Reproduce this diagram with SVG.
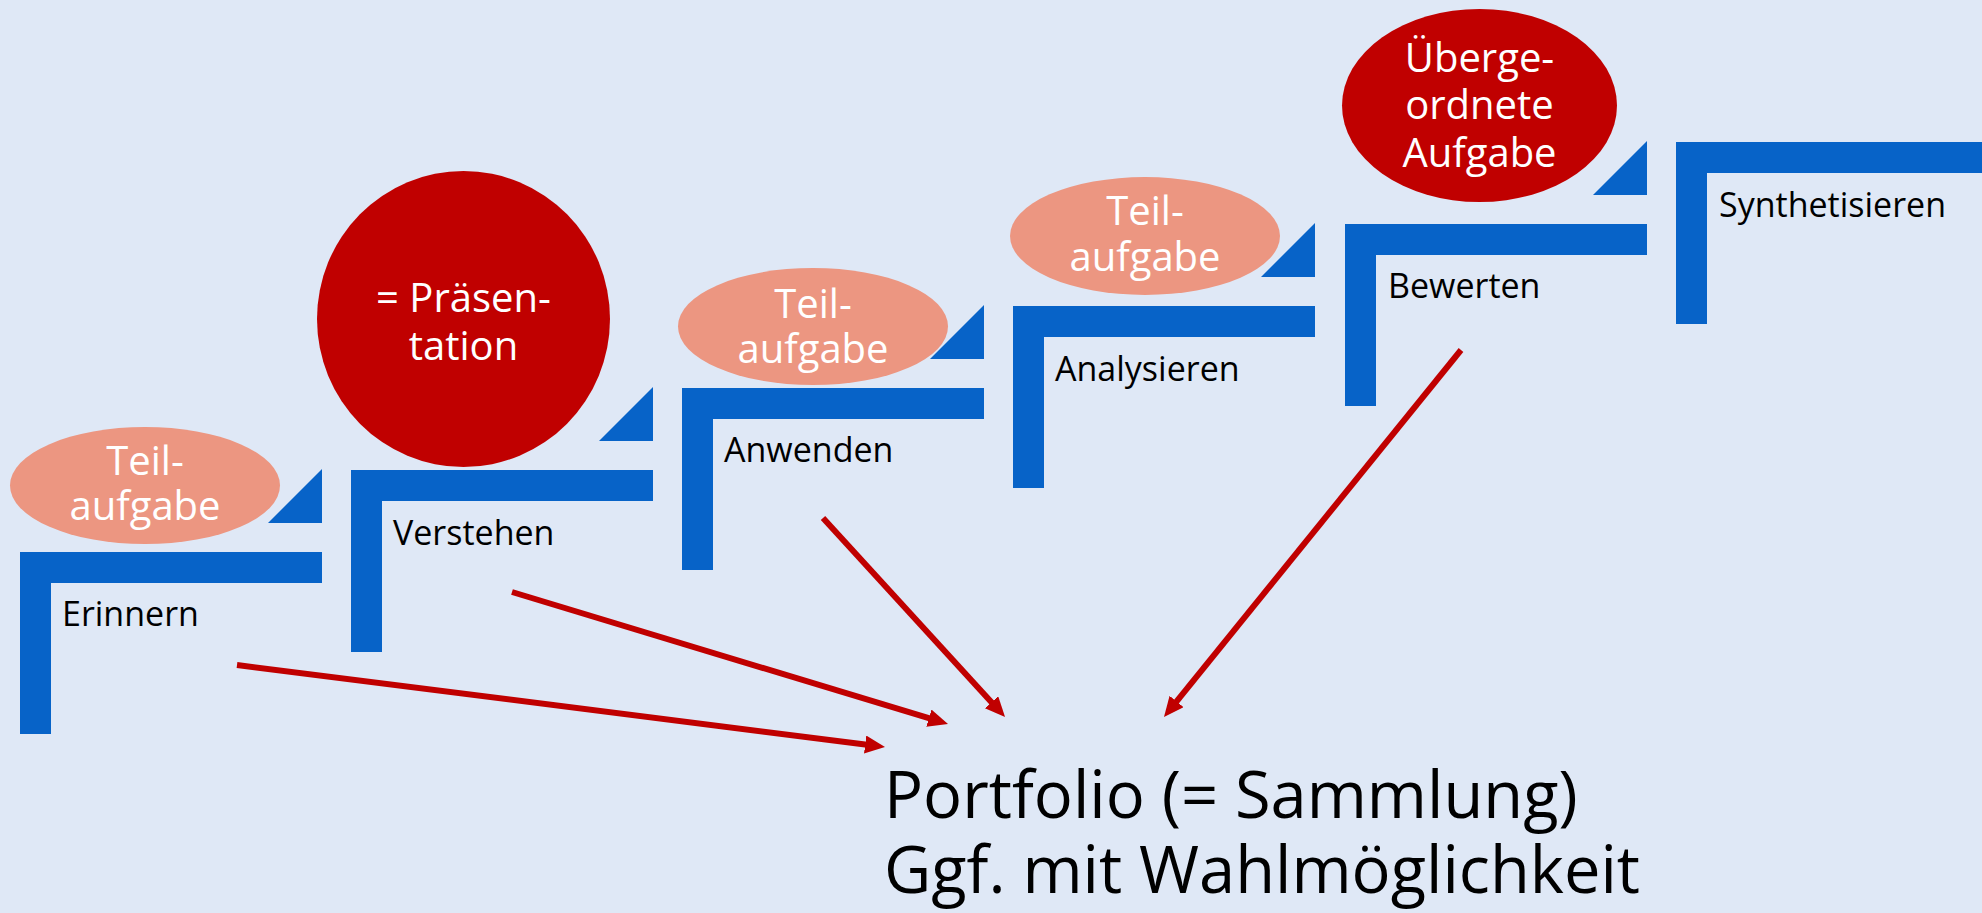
<svg xmlns="http://www.w3.org/2000/svg" width="1982" height="913" viewBox="0 0 1982 913">
<defs>
<style>
.bar{fill:#0763C8}
.sub{fill:#EC9681}
.main{fill:#C00000}
.wt{fill:#FFFFFF;font-family:"Open Sans","Noto Sans","DejaVu Sans",sans-serif;font-size:40px;text-anchor:middle}
.lbl{fill:#000000;font-family:"Open Sans","Noto Sans","DejaVu Sans",sans-serif;font-size:34px}
.big{fill:#000000;font-family:"Open Sans","Noto Sans","DejaVu Sans",sans-serif;font-size:65px}
.arr{stroke:#C00000;stroke-width:6;fill:none;marker-end:url(#ah)}
</style>
<marker id="ah" markerUnits="userSpaceOnUse" markerWidth="22" markerHeight="20" refX="6" refY="9" orient="auto" viewBox="0 0 22 20">
<path d="M0,0 L20,9 L0,18 z" fill="#C00000"/>
</marker>
<g id="stair">
<rect class="bar" x="0" y="0" width="302" height="31"/>
<rect class="bar" x="0" y="0" width="31" height="182"/>
</g>
<polygon id="tri" class="bar" points="248,-29 302,-83 302,-29"/>
</defs>
<rect width="1982" height="913" fill="#DFE8F6"/>

<g id="step-erinnern">
<use href="#stair" x="20" y="552"/>
<use href="#tri" x="20" y="552"/>
<text class="lbl" x="62" y="626">Erinnern</text>
</g>
<g id="task-1">
<ellipse class="sub" cx="145" cy="485.5" rx="135" ry="58.5"/>
<text class="wt" x="145" y="475">Teil-</text>
<text class="wt" x="145" y="520">aufgabe</text>
</g>

<g id="step-verstehen">
<use href="#stair" x="351" y="470"/>
<use href="#tri" x="351" y="470"/>
<text class="lbl" x="393" y="545">Verstehen</text>
</g>
<g id="presentation">
<ellipse class="main" cx="463.5" cy="319" rx="146.5" ry="148"/>
<text class="wt" x="463.5" y="312">= Präsen-</text>
<text class="wt" x="463.5" y="360">tation</text>
</g>

<g id="step-anwenden">
<use href="#stair" x="682" y="388"/>
<use href="#tri" x="682" y="388"/>
<text class="lbl" x="724" y="462">Anwenden</text>
</g>
<g id="task-3">
<ellipse class="sub" cx="813" cy="326.5" rx="135" ry="58.5"/>
<text class="wt" x="813" y="318">Teil-</text>
<text class="wt" x="813" y="363">aufgabe</text>
</g>

<g id="step-analysieren">
<use href="#stair" x="1013" y="306"/>
<use href="#tri" x="1013" y="306"/>
<text class="lbl" x="1055" y="381">Analysieren</text>
</g>
<g id="task-4">
<ellipse class="sub" cx="1145" cy="236" rx="135" ry="59"/>
<text class="wt" x="1145" y="225">Teil-</text>
<text class="wt" x="1145" y="271">aufgabe</text>
</g>

<g id="step-bewerten">
<use href="#stair" x="1345" y="224"/>
<use href="#tri" x="1345" y="224"/>
<text class="lbl" x="1388" y="298">Bewerten</text>
</g>
<g id="main-task">
<ellipse class="main" cx="1479.5" cy="105.5" rx="137.5" ry="96.5"/>
<text class="wt" x="1479.5" y="72">Überge-</text>
<text class="wt" x="1479.5" y="119">ordnete</text>
<text class="wt" x="1479.5" y="167">Aufgabe</text>
</g>

<g id="step-synthetisieren">
<rect class="bar" x="1676" y="142" width="306" height="31"/>
<rect class="bar" x="1676" y="142" width="31" height="182"/>
<text class="lbl" x="1719" y="217">Synthetisieren</text>
</g>

<g id="portfolio">
<text class="big" x="884" y="818">Portfolio (= Sammlung)</text>
<text class="big" x="884" y="893">Ggf. mit Wahlmöglichkeit</text>
</g>

<g id="connectors">
<line class="arr" x1="237" y1="665" x2="871.1" y2="745.2"/>
<line class="arr" x1="512" y1="592" x2="934.6" y2="719.9"/>
<line class="arr" x1="823" y1="518" x2="995.6" y2="706.7"/>
<line class="arr" x1="1461" y1="350" x2="1172.8" y2="706.1"/>
</g>
</svg>
